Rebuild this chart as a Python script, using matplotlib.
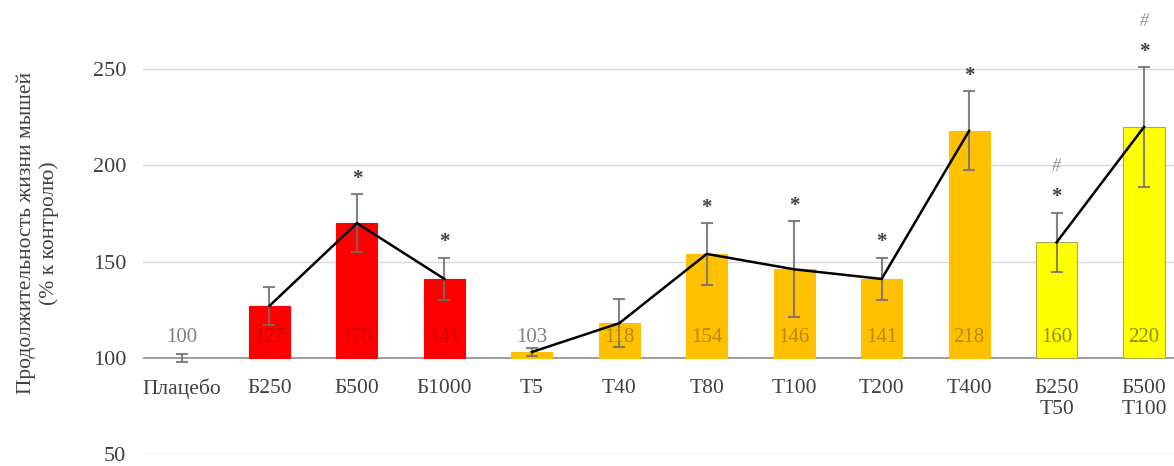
import matplotlib.pyplot as plt

groups = ['Плацебо', 'Б250', 'Б500', 'Б1000', 'T5', 'T40', 'T80', 'T100',
          'T200', 'T400', 'Б250\nT50', 'Б500\nT100']
values = [100, 127, 170, 141, 103, 118, 154, 146, 141, 218, 160, 220]
errors = [2, 10, 15, 11, 2, 12.5, 16, 25, 11, 20.5, 15.5, 31]
stars = [False, False, True, True, False, False, True, True, True, True, True, True]
hashes = [False, False, False, False, False, False, False, False, False, False, True, True]
bar_colors = ['#FFFFFF', '#FF0000', '#FF0000', '#FF0000', '#FFC000', '#FFC000', '#FFC000',
              '#FFC000', '#FFC000', '#FFC000', '#FFFF00', '#FFFF00']
label_colors = ['#808080', '#D00000', '#D00000', '#D00000', '#808080', '#B8860B', '#B8860B',
                '#B8860B', '#B8860B', '#B8860B', '#8C8C00', '#8C8C00']
# индексы, соединённые линией
line_sets = [[1, 2, 3], [4, 5, 6, 7, 8, 9], [10, 11]]

plt.rcParams['font.family'] = ['Liberation Serif', 'DejaVu Serif']

fig = plt.figure(figsize=(11.74, 4.66), dpi=100)
ax = fig.add_axes([143 / 1174, 12 / 466, 1 - 143 / 1174, 454 / 466])

x = list(range(len(groups)))
for yv in [50, 150, 200, 250]:
    ax.axhline(yv, color='#D9D9D9', lw=1, zorder=0)
ax.axhline(100, color='#8C8C8C', lw=1.2, zorder=1)

for i in x:
    if i == 0:
        continue
    edge = '#A8A860' if bar_colors[i] == '#FFFF00' else bar_colors[i]
    ax.bar(i, values[i] - 100, bottom=100, width=0.47, color=bar_colors[i],
           edgecolor=edge, lw=0.8, zorder=2)

ax.errorbar(x, values, yerr=errors, fmt='none', ecolor='#6E6E6E', alpha=0.85,
            elinewidth=1.5, capsize=4, capthick=1.5, zorder=3)

for s in line_sets:
    ax.plot(s, [values[i] for i in s], color='black', lw=1.8, zorder=4)

for i in x:
    ax.text(i, 110.5, str(values[i]), ha='center', va='center', fontsize=15,
            color=label_colors[i], zorder=5)
    ax.text(i, 89, groups[i], ha='center', va='top', fontsize=15.5,
            color='#404040', linespacing=1.15)
    top = values[i] + errors[i]
    if stars[i]:
        ax.text(i, top + 8, '*', ha='center', va='center', fontsize=15,
                color='#404040', fontweight='bold')
    if hashes[i]:
        ax.text(i, top + 24, '#', ha='center', va='center', fontsize=13,
                color='#8C8C8C', style='italic')

ax.set_xlim(-0.446, 11.343)
ax.set_ylim(50, 286)
ax.set_yticks([50, 100, 150, 200, 250])
ax.tick_params(axis='y', length=0, labelsize=16, labelcolor='#404040', pad=12)
ax.tick_params(axis='x', bottom=False, labelbottom=False)
for sp in ax.spines.values():
    sp.set_visible(False)

fig.text(0.032, 0.50, 'Продолжительность жизни мышей\n(% к контролю)', rotation=90,
         ha='center', va='center', fontsize=15.5, color='#404040', linespacing=1.2)

fig.savefig('out.png', dpi=100)
